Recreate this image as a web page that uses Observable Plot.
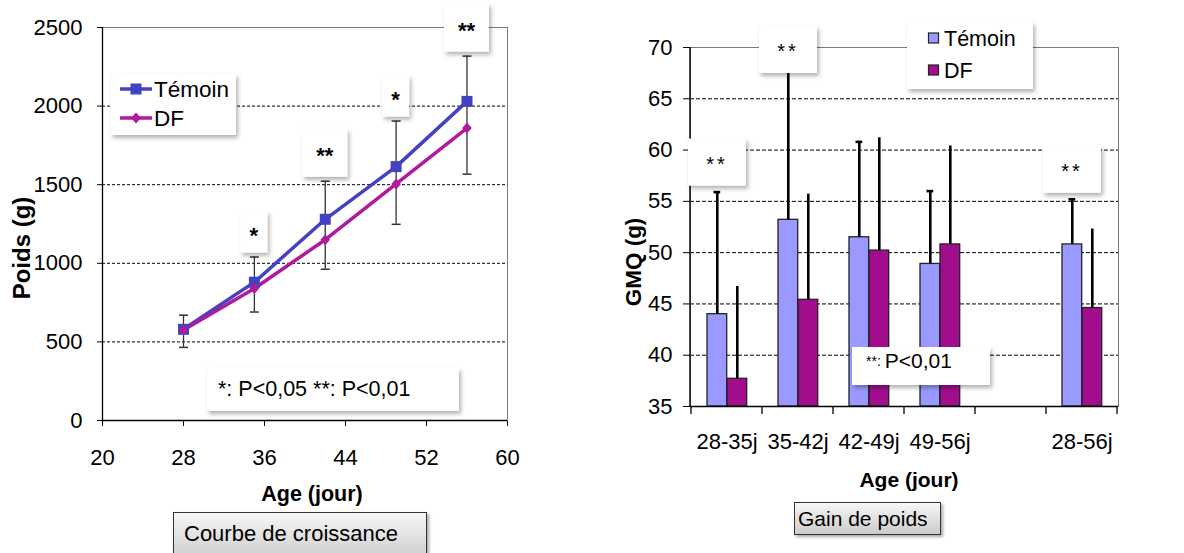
<!DOCTYPE html>
<html><head><meta charset="utf-8">
<script src="https://cdn.jsdelivr.net/npm/d3@7"></script>
<script src="https://cdn.jsdelivr.net/npm/@observablehq/plot@0.6"></script>
<style>
body{margin:0;background:#fff;font-family:"Liberation Sans",Arial,sans-serif;}
#wrap{position:relative;width:1184px;height:553px;overflow:hidden;background:#fff;}
.chart{position:absolute;top:0;}
.cap{position:absolute;border:1px solid #333;background:linear-gradient(#f7f7f7,#cbcbcb);box-shadow:2px 2px 3px rgba(0,0,0,.35);color:#000;box-sizing:border-box;white-space:nowrap;}
</style></head><body>
<div id="wrap">
  <div id="left" class="chart" style="left:0"></div>
  <div id="right" class="chart" style="left:600px"></div>
  <div class="cap" style="left:173px;top:512px;width:254px;height:50px;font-size:22px;line-height:41px;padding-left:10px;">Courbe de croissance</div>
  <div class="cap" style="left:794px;top:502px;width:147px;height:33px;font-size:21px;line-height:31px;padding-left:3px;">Gain de poids</div>
</div>
<script>
// ---------- data: growth curve ----------
const ages = [28, 35, 42, 49, 56];
const poidsTemoin = [580, 880, 1280, 1615, 2030];
const poidsDF = [575, 840, 1150, 1505, 1860];
const sdTemoin = [90, 160, 242, 290, 288];
const sdDF = [110, 150, 188, 257, 293];
const signifPoids = ["", "*", "**", "*", "**"];
const ageTicks = [20, 28, 36, 44, 52, 60];
const poidsTicks = [0, 500, 1000, 1500, 2000, 2500];

// ---------- data: weight gain ----------
const periods = ["28-35j", "35-42j", "42-49j", "49-56j", " ", "28-56j"];
const barPeriods = ["28-35j", "35-42j", "42-49j", "49-56j", "28-56j"];
const gmqTemoin = [44.0, 53.2, 51.5, 48.9, 50.8];
const gmqDF = [37.7, 45.4, 50.2, 50.8, 44.6];
const gmqSdTemoin = [11.9, 16.0, 9.3, 7.1, 4.4];
const gmqSdDF = [9.0, 10.3, 11.0, 9.6, 7.7];
const signifGmq = ["**", "**", "", "", "**"];
const gmqTicks = [35, 40, 45, 50, 55, 60, 65, 70];

const seriesNames = ["Témoin", "DF"];
const lineColors = ["#4242c2", "#b01a9c"];
const barColors = ["#9999ff", "#a20d8e"];
const font = "'Liberation Sans', Arial, sans-serif";

const capSymbol = {draw(ctx) { ctx.moveTo(-4.5, 0); ctx.lineTo(4.5, 0); }};
const diamondSymbol = {draw(ctx) { ctx.moveTo(0, -5.5); ctx.lineTo(4.8, 0); ctx.lineTo(0, 5.5); ctx.lineTo(-4.8, 0); ctx.closePath(); }};

function addShadow(svg, id) {
  const f = svg.append("defs").append("filter").attr("id", id)
    .attr("x", "-20%").attr("y", "-20%").attr("width", "150%").attr("height", "160%");
  f.append("feDropShadow").attr("dx", 2).attr("dy", 3).attr("stdDeviation", 2)
    .attr("flood-color", "#000").attr("flood-opacity", 0.3);
}
function box(svg, x, y, w, h, id) {
  return svg.append("rect").attr("x", x).attr("y", y).attr("width", w).attr("height", h)
    .attr("fill", "#fff").attr("filter", `url(#${id})`);
}
function label(svg, text, x, y, size, opts = {}) {
  const t = svg.append("text").attr("x", x).attr("y", y).attr("font-size", size)
    .attr("font-family", font).attr("fill", "#000").text(text)
    .attr("text-anchor", opts.anchor || "start");
  if (opts.bold) t.attr("font-weight", "bold");
  if (opts.rotate) t.attr("transform", `rotate(-90 ${x} ${y})`);
  t.attr("dy", opts.dy ?? "0.35em");
  return t;
}

// ---------- left chart ----------
const growth = ages.map((a, i) => ({
  age: a, t: poidsTemoin[i], d: poidsDF[i],
  lo: poidsDF[i] - sdDF[i], hi: poidsTemoin[i] + sdTemoin[i], sig: signifPoids[i]
}));

const left = Plot.plot({
  width: 600, height: 505,
  marginLeft: 102, marginRight: 93, marginTop: 27, marginBottom: 85,
  style: {fontFamily: font, fontSize: "22px", color: "#000", background: "transparent", overflow: "visible"},
  x: {domain: [20, 60], ticks: ageTicks, tickFormat: d => String(d), tickSize: 6, tickPadding: 23, label: null},
  y: {domain: [0, 2500], ticks: poidsTicks, tickFormat: d => String(d), tickSize: 5, tickPadding: 15, label: null},
  marks: [
    Plot.ruleY(poidsTicks.slice(1, -1), {stroke: "#000", strokeDasharray: "3,2", strokeWidth: 1}),
    Plot.frame({stroke: "#7a7a7a"}),
    Plot.ruleX([20], {stroke: "#000", strokeWidth: 1.3}),
    Plot.ruleY([0], {stroke: "#000", strokeWidth: 1.3}),
    Plot.ruleX(growth, {x: "age", y1: "lo", y2: "hi", stroke: "#333", strokeWidth: 1.3}),
    Plot.dot(growth, {x: "age", y: "lo", symbol: capSymbol, fill: "none", stroke: "#333", strokeWidth: 1.5}),
    Plot.dot(growth, {x: "age", y: "hi", symbol: capSymbol, fill: "none", stroke: "#333", strokeWidth: 1.5}),
    Plot.line(growth, {x: "age", y: "t", stroke: lineColors[0], strokeWidth: 3.5}),
    Plot.line(growth, {x: "age", y: "d", stroke: lineColors[1], strokeWidth: 3.5}),
    Plot.dot(growth, {x: "age", y: "t", symbol: "square", r: 6.2, fill: lineColors[0], stroke: "none"}),
    Plot.dot(growth, {x: "age", y: "d", symbol: diamondSymbol, fill: lineColors[1], stroke: "none"})
  ]
});
document.getElementById("left").appendChild(left);
{
  const svg = d3.select(left);
  addShadow(svg, "shL");
  const xs = left.scale("x"), ys = left.scale("y");
  // significance boxes
  growth.filter(d => d.sig).forEach(d => {
    const cx = xs.apply(d.age), top = ys.apply(d.hi);
    const w = d.sig.length === 1 ? 27 : 45, h = d.sig.length === 1 ? 41 : 48;
    const y0 = Math.max(top - 4 - h, 3);
    box(svg, cx - w / 2, y0, w, h, "shL");
    label(svg, d.sig, cx, y0 + h / 2 + 10.5, 22, {bold: true, anchor: "middle", dy: "0"});
  });
  // legend
  box(svg, 111, 74, 125, 61, "shL");
  [89, 118].forEach((yy, i) => {
    svg.append("line").attr("x1", 120).attr("x2", 152).attr("y1", yy).attr("y2", yy)
      .attr("stroke", lineColors[i]).attr("stroke-width", 3.5);
    if (i === 0) svg.append("rect").attr("x", 130.5).attr("y", yy - 5.5).attr("width", 11).attr("height", 11).attr("fill", lineColors[0]);
    else svg.append("path").attr("d", `M136,${yy - 5.5}L140.8,${yy}L136,${yy + 5.5}L131.2,${yy}Z`).attr("fill", lineColors[1]);
    label(svg, seriesNames[i], 154, yy, 22.5);
  });
  // p-value note
  box(svg, 207, 368, 252, 43, "shL");
  label(svg, "*: P<0,05 **: P<0,01", 218, 388, 21.5);
  // axis titles
  label(svg, "Poids (g)", 22, 248, 24, {bold: true, anchor: "middle", rotate: true});
  label(svg, "Age (jour)", 312, 493, 21.5, {bold: true, anchor: "middle"});
}

// ---------- right chart ----------
const gain = barPeriods.map((p, i) => ({
  period: p, t: gmqTemoin[i], d: gmqDF[i],
  tHi: gmqTemoin[i] + gmqSdTemoin[i], dHi: gmqDF[i] + gmqSdDF[i], sig: signifGmq[i]
}));

const right = Plot.plot({
  width: 584, height: 495,
  marginLeft: 90, marginRight: 66, marginTop: 47, marginBottom: 89,
  style: {fontFamily: font, fontSize: "22px", color: "#000", background: "transparent", overflow: "visible"},
  x: {domain: periods, padding: 0, tickSize: 0, tickPadding: 27, label: null},
  y: {domain: [35, 70], ticks: gmqTicks, tickSize: 7, tickPadding: 11, label: null},
  marks: [
    Plot.ruleY(gmqTicks.slice(1, -1), {stroke: "#000", strokeDasharray: "4,2", strokeWidth: 1}),
    Plot.frame({stroke: "#7a7a7a"}),
    Plot.barY(gain, {x: "period", y1: 35, y2: "t", fill: barColors[0], stroke: "#222", strokeWidth: 1.3, insetLeft: 16, insetRight: 35.3}),
    Plot.barY(gain, {x: "period", y1: 35, y2: "d", fill: barColors[1], stroke: "#222", strokeWidth: 1.3, insetLeft: 36, insetRight: 15.3}),
    Plot.ruleX(gain, {x: "period", y1: "t", y2: "tHi", dx: -9.7, stroke: "#000", strokeWidth: 2.6}),
    Plot.ruleX(gain, {x: "period", y1: "d", y2: "dHi", dx: 10.3, stroke: "#000", strokeWidth: 2.6}),
    Plot.tickY(gain, {x: "period", y: "tHi", insetLeft: 22.5, insetRight: 41.8, stroke: "#000", strokeWidth: 2.6}),
    Plot.ruleY([35], {stroke: "#000", strokeWidth: 1.4})
  ]
});
document.getElementById("right").appendChild(right);
{
  const svg = d3.select(right);
  addShadow(svg, "shR");
  const xs = right.scale("x"), ys = right.scale("y");
  const bw = xs.bandwidth;
  // left axis line and boundary ticks
  svg.append("line").attr("x1", 90).attr("x2", 90).attr("y1", ys.apply(70)).attr("y2", ys.apply(35))
    .attr("stroke", "#000").attr("stroke-width", 1.4);
  const bounds = periods.map(p => xs.apply(p)).concat([xs.apply(periods[periods.length - 1]) + bw]);
  bounds.forEach(bx => svg.append("line").attr("x1", bx).attr("x2", bx)
    .attr("y1", ys.apply(35)).attr("y2", ys.apply(35) + 8).attr("stroke", "#000").attr("stroke-width", 1.3));
  // significance boxes (kept inside the drawing area: may cover the top of an error bar)
  gain.filter(d => d.sig).forEach(d => {
    const cx = xs.apply(d.period) + 26, top = ys.apply(d.tHi);
    const w = 58, h = 47, y0 = Math.max(top - 6 - h, 26);
    box(svg, cx - w / 2, y0, w, h, "shR");
    label(svg, d.sig, cx, y0 + 32, 20, {anchor: "middle", dy: "0"}).attr("letter-spacing", 3);
  });
  // legend
  box(svg, 307, 22, 126, 67, "shR");
  [38, 70].forEach((yy, i) => {
    svg.append("rect").attr("x", 328.5).attr("y", yy - 5).attr("width", 10).attr("height", 10)
      .attr("fill", barColors[i]).attr("stroke", "#222").attr("stroke-width", 1.2);
    label(svg, seriesNames[i], 344, yy, 21.5);
  });
  // p-value note
  box(svg, 252, 347, 138, 38, "shR");
  const note = label(svg, "", 266, 367, 21);
  note.append("tspan").attr("font-size", 14).attr("dy", "-0.1em").text("**: ");
  note.append("tspan").attr("dy", "0.1em").text("P<0,01");
  // axis titles
  label(svg, "GMQ (g)", 33, 262, 22.5, {bold: true, anchor: "middle", rotate: true});
  label(svg, "Age (jour)", 309, 480, 21, {bold: true, anchor: "middle"});
}
</script>
</body></html>
